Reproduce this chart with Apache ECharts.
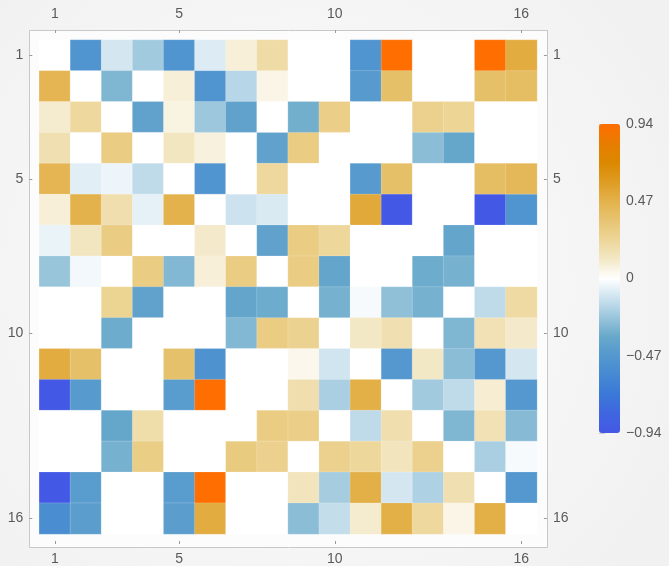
<!DOCTYPE html>
<html>
<head>
<meta charset="utf-8">
<script src="https://cdn.jsdelivr.net/npm/echarts@6/dist/echarts.min.js"></script>
<style>
  html, body { margin: 0; padding: 0; }
  #main { width: 669px; height: 566px; }
</style>
</head>
<body>
<div id="main"></div>
<script>
// matrix labels, ticks shown at 1, 5, 10, 16
const colLabels = ['1','2','3','4','5','6','7','8','9','10','11','12','13','14','15','16'];
const rowLabels = ['1','2','3','4','5','6','7','8','9','10','11','12','13','14','15','16'];
const tickLabels = ['1','5','10','16'];

// values, one array per row
const row1  = [0, -0.5, -0.1, -0.22, -0.5, -0.08, 0.08, 0.2, 0, 0, -0.5, 0.94, 0, 0, 0.94, 0.5];
const row2  = [0.45, 0, -0.3, 0, 0.08, -0.5, -0.17, 0.05, 0, 0, -0.45, 0.38, 0, 0, 0.38, 0.4];
const row3  = [0.1, 0.22, 0, -0.4, 0.06, -0.23, -0.4, 0, -0.33, 0.28, 0, 0, 0.27, 0.24, 0, 0];
const row4  = [0.17, 0, 0.3, 0, 0.13, 0.07, 0, -0.4, 0.3, 0, 0, 0, -0.27, -0.37, 0, 0];
const row5  = [0.45, -0.07, -0.04, -0.15, 0, -0.5, 0, 0.22, 0, 0, -0.45, 0.38, 0, 0, 0.4, 0.43];
const row6  = [0.08, 0.47, 0.18, -0.06, 0.47, 0, -0.12, -0.09, 0, 0, 0.52, -0.94, 0, 0, -0.94, -0.5];
const row7  = [-0.05, 0.13, 0.3, 0, 0, 0.11, 0, -0.4, 0.3, 0.23, 0, 0, 0, -0.38, 0, 0];
const row8  = [-0.24, -0.03, 0, 0.3, -0.29, 0.08, 0.3, 0, 0.3, -0.38, 0, 0, -0.34, -0.32, 0, 0];
const row9  = [0, 0, 0.25, -0.4, 0, 0, -0.38, -0.34, 0, -0.32, -0.02, -0.26, -0.32, 0, -0.15, 0.21];
const row10 = [0, 0, -0.34, 0, 0, 0, -0.29, 0.3, 0.26, 0, 0.12, 0.17, 0, -0.3, 0.16, 0.11];
const row11 = [0.5, 0.38, 0, 0, 0.37, -0.52, 0, 0, 0.04, -0.11, 0, -0.47, 0.12, -0.27, -0.47, -0.1];
const row12 = [-0.94, -0.45, 0, 0, -0.44, 0.94, 0, 0, 0.18, -0.2, 0.48, 0, -0.22, -0.15, 0.09, -0.47];
const row13 = [0, 0, -0.37, 0.19, 0, 0, 0, 0.3, 0.28, 0, -0.15, 0.18, 0, -0.3, 0.16, -0.28];
const row14 = [0, 0, -0.32, 0.29, 0, 0, 0.31, 0.27, 0, 0.27, 0.23, 0.14, 0.27, 0, -0.2, -0.02];
const row15 = [-0.94, -0.44, 0, 0, -0.44, 0.94, 0, 0, 0.14, -0.21, 0.48, -0.1, -0.19, 0.17, 0, -0.47];
const row16 = [-0.55, -0.43, 0, 0, -0.43, 0.5, 0, 0, -0.27, -0.14, 0.1, 0.48, 0.22, 0.05, 0.48, 0];

const rows = [row1, row2, row3, row4, row5, row6, row7, row8,
              row9, row10, row11, row12, row13, row14, row15, row16];

// colour scale, evenly spaced from -0.94 to 0.94
const scaleColors = [
  '#4458e6', '#3f66e0', '#3b78d8', '#4689d2', '#5498cf', '#68a9ca', '#9bc6dc', '#cde3ef',
  '#ffffff',
  '#f3e8c6', '#edd698', '#e7c472', '#e3b24c', '#de9c22', '#db8800', '#e87d00', '#ff6e00'
];

let data = [];
rows.forEach(function (r, i) {
  r.forEach(function (v, j) {
    data.push([j, i, v]);
  });
});

const showTick = function (idx, val) { return tickLabels.indexOf(val) >= 0; };
const labelStyle = { color: '#5a5a5a', fontSize: 14, fontFamily: 'Liberation Sans, sans-serif' };

function matrixAxis(pos, labels, margin) {
  return {
    type: 'category',
    data: labels,
    position: pos,
    gridIndex: 0,
    offset: 10,
    inverse: (pos === 'left' || pos === 'right'),
    axisLine: { show: false },
    axisTick: { show: true, inside: true, length: 3, alignWithLabel: true, interval: showTick,
                lineStyle: { color: '#999' } },
    axisLabel: Object.assign({ interval: showTick, margin: margin }, labelStyle),
    splitLine: { show: false }
  };
}

let myChart = echarts.init(document.getElementById('main'));
myChart.setOption({
  backgroundColor: {
    type: 'radial', x: 0.45, y: 0.5, r: 0.75,
    colorStops: [{ offset: 0, color: '#fdfdfd' }, { offset: 1, color: '#f1f1f1' }]
  },
  animation: false,
  graphic: [{
    type: 'rect',
    z: 0,
    shape: { x: 29.5, y: 30.5, width: 518, height: 517 },
    style: { fill: '#fcfcfc', stroke: '#c8c8c8', lineWidth: 1 }
  }],
  grid: [
    { left: 39.3, top: 40, width: 497.6, height: 497.6 },
    { left: 599, top: 124, width: 21, height: 309 }
  ],
  xAxis: [
    matrixAxis('top', colLabels, 9),
    matrixAxis('bottom', colLabels, 8),
    { type: 'value', gridIndex: 1, show: false }
  ],
  yAxis: [
    matrixAxis('left', rowLabels, 6),
    matrixAxis('right', rowLabels, 6),
    {
      type: 'value', gridIndex: 1, position: 'right',
      min: -0.94, max: 0.94, interval: 0.47,
      axisLine: { show: false },
      axisTick: { show: true, length: 6, lineStyle: { color: '#ccc' } },
      axisLabel: Object.assign({
        margin: 6, showMinLabel: true, showMaxLabel: true,
        formatter: function (v) {
          if (Math.abs(v) < 1e-6) return '0';
          return (v < 0 ? '\u2212' : '') + Math.abs(v).toFixed(2);
        }
      }, labelStyle),
      splitLine: { show: false }
    }
  ],
  visualMap: {
    type: 'continuous',
    seriesIndex: 0,
    min: -0.94,
    max: 0.94,
    calculable: false,
    orient: 'vertical',
    left: 599,
    top: 124,
    padding: 0,
    itemWidth: 21,
    itemHeight: 309,
    inRange: { color: scaleColors }
  },
  series: [{
    type: 'heatmap',
    xAxisIndex: 0,
    yAxisIndex: 0,
    data: data,
    itemStyle: { borderColor: 'rgba(255,255,255,0.35)', borderWidth: 0.5 },
    emphasis: { disabled: true }
  }]
});
</script>
</body>
</html>
